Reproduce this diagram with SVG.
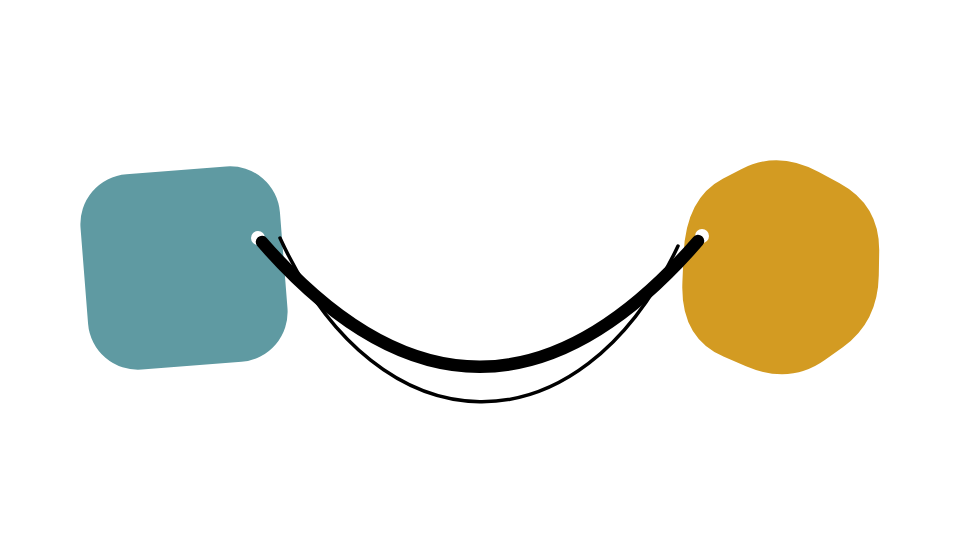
<svg xmlns="http://www.w3.org/2000/svg" width="960" height="536" viewBox="0 0 960 536">
<style>
.edge{fill:none;stroke:#000;stroke-linecap:round}
.thick{stroke-width:12.5}
.thin{stroke-width:3.5}
.port{fill:#fff}
</style>
<rect width="960" height="536" fill="#fff"/>
<g id="node-teal">
<rect x="-100" y="-98" width="200" height="196" rx="50" fill="#5F9AA2" transform="translate(184,268) rotate(-4.5)"/>
</g>
<g id="node-gold">
<path fill="#D39B22" d="M741.2,169.2 Q778,150 818.8,172 L839.2,183 Q880,205 879.2,251.8 L878.8,275.2 Q878,322 842.8,347.2 L825.2,359.8 Q790,385 746,366.2 L724,356.8 Q680,338 682.4,282 L683.6,254 Q686,198 722.8,178.8 Z"/>
</g>
<g id="connectors">
<circle class="port" cx="258" cy="238" r="7"/>
<circle class="port" cx="702" cy="236" r="7"/>
<path class="edge thin" d="M280,238 C380,455 580,455 678,246"/>
<path class="edge thick" d="M262,242 Q480,492 698,241"/>
</g>
</svg>
